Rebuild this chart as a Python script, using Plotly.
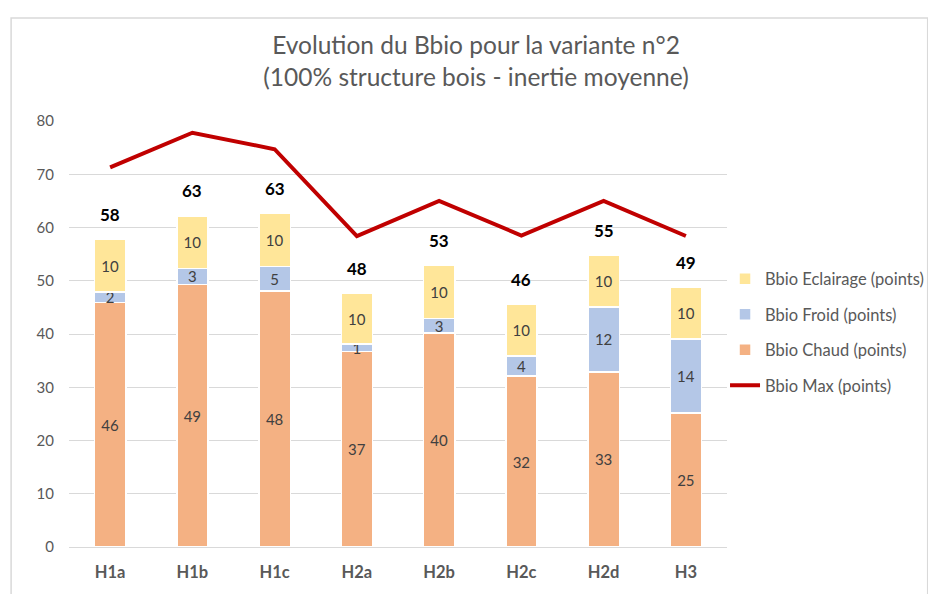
import plotly.graph_objects as go

categories = ["H1a", "H1b", "H1c", "H2a", "H2b", "H2c", "H2d", "H3"]
bbio_chaud = [45.9, 49.3, 48.1, 36.7, 40.2, 32.1, 32.9, 25.2]
bbio_froid = [2.0, 3.0, 4.6, 1.4, 2.7, 3.8, 12.2, 13.9]
bbio_eclairage = [9.9, 9.9, 9.9, 9.6, 10.0, 9.6, 9.6, 9.6]
bbio_max = [71.3, 77.8, 74.7, 58.4, 65.0, 58.5, 65.0, 58.4]
total_labels = ["58", "63", "63", "48", "53", "46", "55", "49"]

GREY = "#595959"
FONT = "Lato"

fig = go.Figure()

# stacked segments, bottom to top
segments = [
    ("Bbio Chaud (points)", bbio_chaud, "#F4B183", 3),
    ("Bbio Froid (points)", bbio_froid, "#B4C7E7", 2),
    ("Bbio Eclairage (points)", bbio_eclairage, "#FFE699", 1),
]
for name, vals, color, rank in segments:
    fig.add_trace(go.Bar(
        x=categories, y=vals, name=name,
        marker=dict(color=color, line=dict(color="white", width=1.5)),
        texttemplate="%{y:.0f}", textposition="inside", textangle=0,
        insidetextanchor="middle", constraintext="none",
        textfont=dict(family=FONT, size=15, color="#404040"),
        legendrank=rank, legendgroup=name,
        hoverinfo="skip",
    ))

fig.add_trace(go.Scatter(
    x=categories, y=bbio_max, name="Bbio Max (points)", mode="lines",
    line=dict(color="#C00000", width=4),
    legendrank=4, legendgroup="max",
))

# totals above each bar
tops = [c + f + e for c, f, e in zip(bbio_chaud, bbio_froid, bbio_eclairage)]
for cat, top, lab in zip(categories, tops, total_labels):
    fig.add_annotation(
        x=cat, y=top, text=f"<b>{lab}</b>", showarrow=False,
        yshift=25, font=dict(family=FONT, size=17, color="black"),
    )

# outer chart border
fig.add_shape(type="rect", xref="paper", yref="paper",
              x0=-0.088, x1=1.305, y0=-0.3, y1=1.242,
              line=dict(color="#D9D9D9", width=1.5), layer="below")

fig.update_layout(
    width=936, height=594,
    margin=dict(l=61, r=217, t=113, b=55),
    paper_bgcolor="white", plot_bgcolor="white",
    barmode="stack", bargap=0.62,
    title=dict(
        text="Evolution du Bbio pour la variante n°2<br>(100% structure bois - inertie moyenne)",
        x=0.5, xanchor="center", xref="container",
        y=1 - 46 / 594, yanchor="middle", yref="container",
        font=dict(family=FONT, size=24.5, color=GREY),
    ),
    font=dict(family=FONT, color=GREY),
    xaxis=dict(
        tickfont=dict(family=FONT, size=16.5, color=GREY, weight="bold"),
        showline=True, linecolor="#D9D9D9", linewidth=1,
        ticks="", showgrid=False, ticklabelstandoff=10,
    ),
    yaxis=dict(
        range=[0, 80], dtick=10, showgrid=True, gridcolor="#D9D9D9",
        gridwidth=1, zeroline=False, ticks="", ticklabelstandoff=14,
        tickfont=dict(family=FONT, size=15, color=GREY),
    ),
    legend=dict(
        x=0.997, xanchor="left", y=0.67, yanchor="top",
        traceorder="grouped", tracegroupgap=11,
        font=dict(family=FONT, size=16.5, color=GREY),
        bgcolor="rgba(0,0,0,0)",
    ),
)

fig.write_html("out.html")
